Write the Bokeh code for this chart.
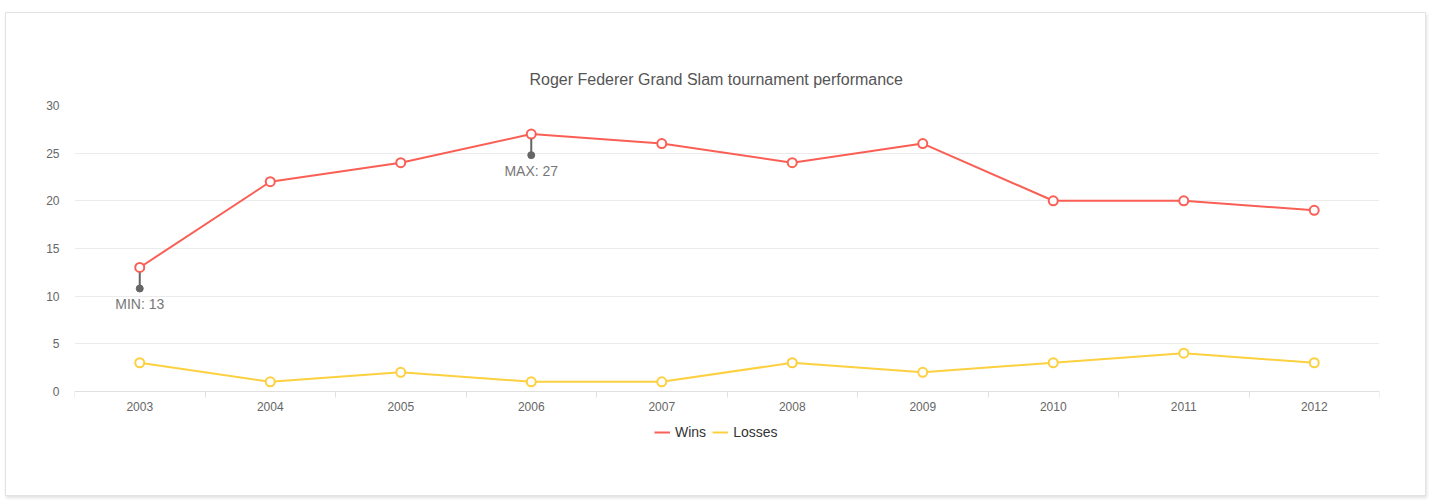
from bokeh.plotting import figure
from bokeh.models import Range1d, FixedTicker, Legend, LegendItem, ColumnDataSource, Label
from bokeh.embed import file_html
from bokeh.resources import INLINE

years = ["2003", "2004", "2005", "2006", "2007", "2008", "2009", "2010", "2011", "2012"]
wins = [13, 22, 24, 27, 26, 24, 26, 20, 20, 19]
losses = [3, 1, 2, 1, 1, 3, 2, 3, 4, 3]
y_ticks = [0, 5, 10, 15, 20, 25, 30]

FONT = "Liberation Sans"
RED = "#fa5f55"
YEL = "#fdd03f"

x = list(range(len(years)))
ppu = 285 / 30.0          # pixels per unit on the y axis
below = 60 / ppu          # room under y=0 for the axis labels and legend

p = figure(width=1421, height=484, output_backend="svg", toolbar_location=None,
           x_range=Range1d(-0.5, len(years) - 0.5), y_range=Range1d(-below, 30),
           min_border_left=68, min_border_right=48, min_border_top=92, min_border_bottom=46,
           styles={"margin-left": "5px", "margin-top": "12px",
                   "border": "1px solid #e3e3e3",
                   "box-shadow": "1px 2px 3px rgba(0,0,0,0.12)"},
           title="Roger Federer Grand Slam tournament performance")
p.outline_line_color = None
p.background_fill_color = "white"
p.border_fill_color = "white"

p.title.align = "left"
p.title.offset = 455
p.title.text_font = FONT
p.title.text_font_size = "16px"
p.title.text_font_style = "normal"
p.title.text_color = "#555555"
p.title.standoff = 35

# axes
p.yaxis.ticker = FixedTicker(ticks=y_ticks)
p.yaxis.axis_line_color = None
p.yaxis.major_tick_line_color = None
p.yaxis.minor_tick_line_color = None
p.yaxis.major_label_text_font = FONT
p.yaxis.major_label_text_font_size = "12px"
p.yaxis.major_label_text_color = "#666666"
p.yaxis.major_label_standoff = 9

p.xaxis.fixed_location = 0
p.xaxis.ticker = FixedTicker(ticks=x, minor_ticks=[i - 0.5 for i in range(len(years) + 1)])
p.xaxis.major_label_overrides = {i: y for i, y in enumerate(years)}
p.xaxis.axis_line_color = "#e0e0e0"
p.xaxis.major_tick_line_color = None
p.xaxis.major_tick_out = 0
p.xaxis.major_tick_in = 0
p.xaxis.minor_tick_line_color = "#e0e0e0"
p.xaxis.minor_tick_out = 6
p.xaxis.minor_tick_in = 0
p.xaxis.major_label_text_font = FONT
p.xaxis.major_label_text_font_size = "12px"
p.xaxis.major_label_text_color = "#666666"
p.xaxis.major_label_standoff = 5

p.xgrid.grid_line_color = None
p.ygrid.ticker = FixedTicker(ticks=y_ticks[1:])
p.ygrid.grid_line_color = "#ebebeb"

src = ColumnDataSource(dict(x=x, wins=wins, losses=losses))
lw = p.line("x", "wins", source=src, line_color=RED, line_width=2)
ll = p.line("x", "losses", source=src, line_color=YEL, line_width=2)
p.scatter("x", "wins", source=src, size=9, fill_color="white", line_color=RED, line_width=2)
p.scatter("x", "losses", source=src, size=9, fill_color="white", line_color=YEL, line_width=2)

# min / max pins
for lab, idx in (("MIN", wins.index(min(wins))), ("MAX", wins.index(max(wins)))):
    v = wins[idx]
    dot = v - 21 / ppu
    p.segment(x0=[idx], y0=[v - 5 / ppu], x1=[idx], y1=[dot], line_color="#666666", line_width=2)
    p.scatter(x=[idx], y=[dot], size=7, fill_color="#666666", line_color="#666666")
    p.add_layout(Label(x=idx, y=dot - 15.5 / ppu, text=f"{lab}: {v}", text_align="center",
                       text_baseline="middle", text_font=FONT, text_font_size="14px",
                       text_color="#777777"))

legend = Legend(items=[LegendItem(label="Wins", renderers=[lw]),
                       LegendItem(label="Losses", renderers=[ll])],
                orientation="horizontal", location=(580, 11))
legend.border_line_color = None
legend.background_fill_alpha = 0
legend.label_text_font = FONT
legend.label_text_font_size = "14px"
legend.label_text_color = "#333333"
legend.glyph_width = 16
legend.glyph_height = 14
legend.spacing = 6
legend.label_standoff = 5
legend.padding = 0
legend.margin = 0
p.add_layout(legend, "center")

open("out.html", "w").write(file_html(p, INLINE))
